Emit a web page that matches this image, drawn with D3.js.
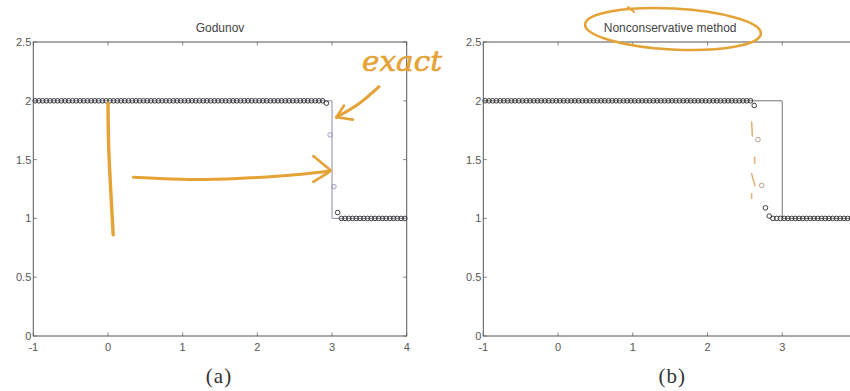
<!DOCTYPE html>
<html>
<head>
<meta charset="utf-8">
<script src="https://cdn.jsdelivr.net/npm/d3@7"></script>
<style>
  html, body { margin: 0; padding: 0; background: #fff; }
  svg { display: block; }
</style>
</head>
<body>
<svg id="chart" width="850" height="391"></svg>
<script>
// Cell centres of the 100-cell grid on [-1, 4]
const cellX = [
  -0.975, -0.925, -0.875, -0.825, -0.775, -0.725, -0.675, -0.625, -0.575, -0.525,
  -0.475, -0.425, -0.375, -0.325, -0.275, -0.225, -0.175, -0.125, -0.075, -0.025,
   0.025,  0.075,  0.125,  0.175,  0.225,  0.275,  0.325,  0.375,  0.425,  0.475,
   0.525,  0.575,  0.625,  0.675,  0.725,  0.775,  0.825,  0.875,  0.925,  0.975,
   1.025,  1.075,  1.125,  1.175,  1.225,  1.275,  1.325,  1.375,  1.425,  1.475,
   1.525,  1.575,  1.625,  1.675,  1.725,  1.775,  1.825,  1.875,  1.925,  1.975,
   2.025,  2.075,  2.125,  2.175,  2.225,  2.275,  2.325,  2.375,  2.425,  2.475,
   2.525,  2.575,  2.625,  2.675,  2.725,  2.775,  2.825,  2.875,  2.925,  2.975,
   3.025,  3.075,  3.125,  3.175,  3.225,  3.275,  3.325,  3.375,  3.425,  3.475,
   3.525,  3.575,  3.625,  3.675,  3.725,  3.775,  3.825,  3.875,  3.925,  3.975
];

// Godunov solution at the final time
const godunovU = [
  2, 2, 2, 2, 2, 2, 2, 2, 2, 2,
  2, 2, 2, 2, 2, 2, 2, 2, 2, 2,
  2, 2, 2, 2, 2, 2, 2, 2, 2, 2,
  2, 2, 2, 2, 2, 2, 2, 2, 2, 2,
  2, 2, 2, 2, 2, 2, 2, 2, 2, 2,
  2, 2, 2, 2, 2, 2, 2, 2, 2, 2,
  2, 2, 2, 2, 2, 2, 2, 2, 2, 2,
  2, 2, 2, 2, 2, 2, 2, 2, 1.98, 1.71,
  1.27, 1.05, 1, 1, 1, 1, 1, 1, 1, 1,
  1, 1, 1, 1, 1, 1, 1, 1, 1, 1
];

// Nonconservative scheme solution at the final time
const nonconsU = [
  2, 2, 2, 2, 2, 2, 2, 2, 2, 2,
  2, 2, 2, 2, 2, 2, 2, 2, 2, 2,
  2, 2, 2, 2, 2, 2, 2, 2, 2, 2,
  2, 2, 2, 2, 2, 2, 2, 2, 2, 2,
  2, 2, 2, 2, 2, 2, 2, 2, 2, 2,
  2, 2, 2, 2, 2, 2, 2, 2, 2, 2,
  2, 2, 2, 2, 2, 2, 2, 2, 2, 2,
  2, 2, 1.96, 1.67, 1.28, 1.09, 1.02, 1, 1, 1,
  1, 1, 1, 1, 1, 1, 1, 1, 1, 1,
  1, 1, 1, 1, 1, 1, 1, 1, 1, 1
];

// Exact entropy solution: shock at x = 3
const exactX = [-1, 3, 3, 4];
const exactU = [2, 2, 1, 1];

const xTicks = [-1, 0, 1, 2, 3, 4];
const yTicks = [0, 0.5, 1, 1.5, 2, 2.5];
const yTickLabels = ["0", "0.5", "1", "1.5", "2", "2.5"];

const panelTitles = ["Godunov", "Nonconservative method"];
const panelCaptions = ["(a)", "(b)"];

const W = 850;
const svg = d3.select("#chart");
const ink = "#e5a235";
const sans = "Liberation Sans, Arial, sans-serif";

const panels = [
  { left: 33.3, right: 406.7, data: godunovU, title: panelTitles[0], caption: panelCaptions[0] },
  { left: 483.3, right: 857.0, data: nonconsU, title: panelTitles[1], caption: panelCaptions[1] }
];
const plotTop = 42, plotBottom = 336;

panels.forEach((p, pi) => {
  const x = d3.scaleLinear().domain([-1, 4]).range([p.left, p.right]);
  const y = d3.scaleLinear().domain([0, 2.5]).range([plotBottom, plotTop]);
  p.x = x; p.y = y;
  const g = svg.append("g");

  // frame
  g.append("rect")
    .attr("x", x(-1)).attr("y", y(2.5))
    .attr("width", x(4) - x(-1)).attr("height", y(0) - y(2.5))
    .attr("fill", "none").attr("stroke", "#555").attr("stroke-width", 1);

  // inward ticks on all four sides
  const tl = 3.5;
  xTicks.forEach(t => {
    g.append("line").attr("x1", x(t)).attr("x2", x(t)).attr("y1", y(0)).attr("y2", y(0) - tl)
      .attr("stroke", "#666").attr("stroke-width", 0.8);
    g.append("line").attr("x1", x(t)).attr("x2", x(t)).attr("y1", y(2.5)).attr("y2", y(2.5) + tl)
      .attr("stroke", "#666").attr("stroke-width", 0.8);
  });
  yTicks.forEach(t => {
    g.append("line").attr("x1", x(-1)).attr("x2", x(-1) + tl).attr("y1", y(t)).attr("y2", y(t))
      .attr("stroke", "#666").attr("stroke-width", 0.8);
    g.append("line").attr("x1", x(4)).attr("x2", x(4) - tl).attr("y1", y(t)).attr("y2", y(t))
      .attr("stroke", "#666").attr("stroke-width", 0.8);
  });

  // tick labels (only those that fall inside the page)
  g.selectAll(".xl").data(xTicks.filter(d => x(d) + 4 <= W)).enter().append("text")
    .attr("x", d => x(d)).attr("y", y(0) + 14.5)
    .attr("text-anchor", "middle")
    .attr("font-family", sans).attr("font-size", 11)
    .attr("fill", "#555").text(d => d);
  g.selectAll(".yl").data(yTicks).enter().append("text")
    .attr("x", x(-1) - 2).attr("y", d => y(d) + 4)
    .attr("text-anchor", "end")
    .attr("font-family", sans).attr("font-size", 11)
    .attr("fill", "#555").text((d, i) => yTickLabels[i]);

  // exact solution
  const line = d3.line().x(d => x(d[0])).y(d => y(d[1]));
  g.append("path")
    .attr("d", line(exactX.map((v, i) => [v, exactU[i]])))
    .attr("fill", "none").attr("stroke", pi === 0 ? "#8f8cab" : "#777").attr("stroke-width", 1);

  // numerical solution markers
  g.selectAll(".pt").data(p.data).enter().append("circle")
    .attr("cx", (d, i) => x(cellX[i])).attr("cy", d => y(d)).attr("r", 2.3)
    .attr("fill", "none")
    .attr("stroke", d => (d > 1.1 && d < 1.9) ? (pi === 0 ? "#9a94c0" : "#b39a80") : "#333")
    .attr("stroke-width", 0.95);

  // title and caption
  svg.append("text")
    .attr("x", (x(-1) + x(4)) / 2)
    .attr("y", 32).attr("text-anchor", "middle")
    .attr("font-family", sans).attr("font-size", 12)
    .attr("fill", "#444").text(p.title);
  svg.append("text")
    .attr("x", (x(-1) + x(4)) / 2 + (pi === 0 ? -1 : 2)).attr("y", 383).attr("text-anchor", "middle")
    .attr("font-family", "Liberation Serif, DejaVu Serif, serif").attr("font-size", 21)
    .attr("letter-spacing", 1)
    .attr("fill", "#333").text(p.caption);
});

// handwritten annotations
const A = panels[0], B = panels[1];
const pen = d3.line().curve(d3.curveCatmullRom.alpha(0.5));
function stroke(pts, w, col) {
  svg.append("path").attr("d", pen(pts)).attr("fill", "none")
    .attr("stroke", col || ink).attr("stroke-width", w || 3)
    .attr("stroke-linecap", "round").attr("stroke-linejoin", "round");
}
const pa = (xv, yv) => [A.x(xv), A.y(yv)];
const pb = (xv, yv) => [B.x(xv), B.y(yv)];

// vertical mark at x = 0
stroke([pa(0.0, 1.98), pa(0.01, 1.6), pa(0.04, 1.2), pa(0.07, 0.86)], 3.4);
// arrow towards the shock
stroke([pa(0.34, 1.35), pa(1.3, 1.33), pa(2.3, 1.36), pa(2.97, 1.4)], 3);
stroke([pa(2.75, 1.53), pa(2.98, 1.41)], 2.6);
stroke([pa(2.75, 1.31), pa(2.95, 1.39)], 2.6);
// arrow from the word to the exact shock
stroke([pa(3.63, 2.12), pa(3.35, 1.97), pa(3.06, 1.86)], 3);
stroke([pa(3.06, 1.86), pa(3.16, 1.96)], 2.6);
stroke([pa(3.06, 1.86), pa(3.28, 1.84)], 2.6);
svg.append("text").attr("x", 362).attr("y", 71)
  .attr("font-family", "DejaVu Serif, serif").attr("font-style", "italic")
  .attr("font-size", 27).attr("fill", ink)
  .attr("stroke", ink).attr("stroke-width", 0.6)
  .attr("textLength", 80).attr("lengthAdjust", "spacingAndGlyphs")
  .text("exact");

// ring round the second title
svg.append("ellipse").attr("cx", 673).attr("cy", 29).attr("rx", 88).attr("ry", 20.5)
  .attr("transform", "rotate(3 673 29)")
  .attr("fill", "none").attr("stroke", ink).attr("stroke-width", 2.6);
stroke([[628, 7], [634, 12]], 2);

// dashed pencil trace along the smeared profile
const tan = "#e6b27a";
stroke([pb(2.59, 1.82), pb(2.6, 1.7)], 1.6, tan);
stroke([pb(2.63, 1.52), pb(2.63, 1.47)], 1.6, tan);
stroke([pb(2.59, 1.38), pb(2.635, 1.28)], 1.6, tan);
stroke([pb(2.59, 1.21), pb(2.59, 1.17)], 1.6, tan);
</script>
</body>
</html>
